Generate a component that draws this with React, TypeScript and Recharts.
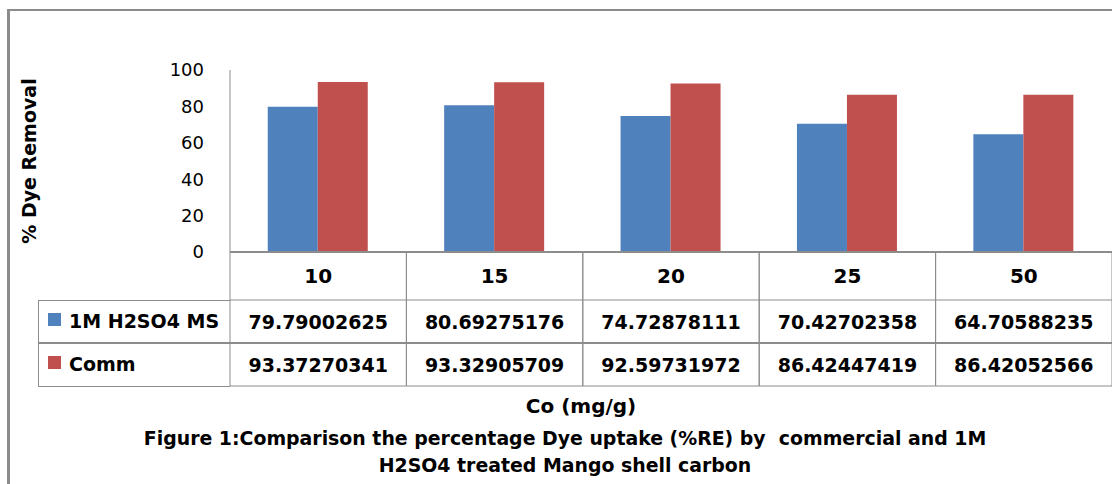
import React from 'react';
import { BarChart, Bar, XAxis, YAxis, Legend, Customized } from 'recharts';

const categories = ['10', '15', '20', '25', '50'];
const seriesH2SO4 = [79.79002625, 80.69275176, 74.72878111, 70.42702358, 64.70588235];
const seriesComm = [93.37270341, 93.32905709, 92.59731972, 86.42447419, 86.42052566];
const seriesNames = ['1M H2SO4 MS', 'Comm'];
const seriesColors = ['#4F81BD', '#C0504D'];
const yTicks = [0, 20, 40, 60, 80, 100];
const yAxisTitle = '% Dye Removal';
const xAxisTitle = 'Co (mg/g)';
const captionLines = [
  'Figure 1:Comparison the percentage Dye uptake (%RE) by  commercial and 1M',
  'H2SO4 treated Mango shell carbon',
];

const data = categories.map((c, i) => ({ cat: c, h2so4: seriesH2SO4[i], comm: seriesComm[i] }));

const GRID = '#8c8c8c';
const FONT = "'DejaVu Sans', sans-serif";

const TableTick = (props: any) => {
  const { x, y, payload, index } = props;
  const half = payload && payload.offset ? payload.offset : (props.width || 882) / categories.length / 2;
  const left = x - half;
  const right = x + half;
  const v1 = String(seriesH2SO4[index]);
  const v2 = String(seriesComm[index]);
  return (
    <g>
      <line x1={left} x2={left} y1={y} y2={y + 134} stroke={GRID} strokeWidth={1} />
      <line x1={right} x2={right} y1={y} y2={y + 134} stroke={GRID} strokeWidth={1} />
      <line x1={left} x2={right} y1={y + 48} y2={y + 48} stroke={GRID} strokeWidth={1} />
      <line x1={left} x2={right} y1={y + 91} y2={y + 91} stroke={GRID} strokeWidth={2} />
      <line x1={left} x2={right} y1={y + 134} y2={y + 134} stroke={GRID} strokeWidth={1} />
      <text x={x} y={y + 24} textAnchor="middle" dominantBaseline="central" fontFamily={FONT} fontWeight="bold" fontSize={20} fill="#000">
        {payload.value}
      </text>
      <text x={x} y={y + 69.5} textAnchor="middle" dominantBaseline="central" fontFamily={FONT} fontWeight="bold" fontSize={19} fill="#000">
        {v1}
      </text>
      <text x={x} y={y + 112.5} textAnchor="middle" dominantBaseline="central" fontFamily={FONT} fontWeight="bold" fontSize={19} fill="#000">
        {v2}
      </text>
    </g>
  );
};

const LegendTable = (props: any) => {
  const payload = props.payload || [];
  return (
    <div style={{ position: 'relative', width: 192, height: 87, fontFamily: FONT, fontWeight: 'bold', fontSize: 19, color: '#000' }}>
      <div style={{ position: 'absolute', left: 0, top: 0, width: 192, height: 1, background: GRID }} />
      <div style={{ position: 'absolute', left: 0, top: 42, width: 192, height: 2, background: GRID }} />
      <div style={{ position: 'absolute', left: 0, top: 86, width: 192, height: 1, background: GRID }} />
      <div style={{ position: 'absolute', left: 0, top: 0, width: 1, height: 87, background: GRID }} />
      {payload.map((entry: any, i: number) => (
        <div key={i} style={{ position: 'absolute', left: 0, top: i * 43, width: 192, height: 43 }}>
          <div style={{ position: 'absolute', left: 10, top: 13, width: 13, height: 13, background: entry.color }} />
          <div style={{ position: 'absolute', left: 31, top: 0, height: 43, lineHeight: '43px', whiteSpace: 'nowrap' }}>{entry.value}</div>
        </div>
      ))}
    </div>
  );
};

const Titles = () => (
  <g>
    <text x={29} y={161} transform="rotate(-90 29 161)" textAnchor="middle" dominantBaseline="central" fontFamily={FONT} fontWeight="bold" fontSize={19} fill="#000">
      {yAxisTitle}
    </text>
    <text x={581} y={406} textAnchor="middle" dominantBaseline="central" fontFamily={FONT} fontWeight="bold" fontSize={20} fill="#000">
      {xAxisTitle}
    </text>
    {captionLines.map((t, i) => (
      <text key={i} x={565} y={438 + i * 27} textAnchor="middle" dominantBaseline="central" fontFamily={FONT} fontWeight="bold" fontSize={18.9} fill="#000" style={{ whiteSpace: 'pre' }}>
        {t}
      </text>
    ))}
  </g>
);

export default function App() {
  return (
    <div style={{ position: 'absolute', left: 0, top: 0, width: 1112, height: 484, overflow: 'hidden', background: '#fff' }}>
      <div style={{ position: 'absolute', left: 7, top: 9, width: 1300, height: 700, borderLeft: `3px solid ${GRID}`, borderTop: `2px solid ${GRID}` }} />
      <div style={{ position: 'absolute', left: 0, top: 0 }}>
        <BarChart
          width={1112}
          height={484}
          data={data}
          margin={{ top: 70, right: 0, bottom: 98, left: 0 }}
          barCategoryGap="21.4%"
          barGap={0}
        >
          <XAxis
            dataKey="cat"
            height={134}
            interval={0}
            tickLine={false}
            tickSize={0}
            tickMargin={0}
            axisLine={{ stroke: GRID, strokeWidth: 2 }}
            tick={<TableTick />}
          />
          <YAxis
            width={230}
            domain={[0, 100]}
            ticks={yTicks}
            interval={0}
            tickLine={false}
            tickSize={0}
            tickMargin={26}
            axisLine={{ stroke: GRID, strokeWidth: 1 }}
            tick={{ fill: '#000', fontSize: 18, fontFamily: FONT }}
          />
          <Bar dataKey="h2so4" name={seriesNames[0]} fill={seriesColors[0]} isAnimationActive={false} />
          <Bar dataKey="comm" name={seriesNames[1]} fill={seriesColors[1]} isAnimationActive={false} />
          <Legend
            layout="horizontal"
            verticalAlign="middle"
            align="center"
            content={LegendTable}
            wrapperStyle={{ left: 38, top: 300, width: 192, height: 87 }}
          />
          <Customized component={Titles} />
        </BarChart>
      </div>
    </div>
  );
}
